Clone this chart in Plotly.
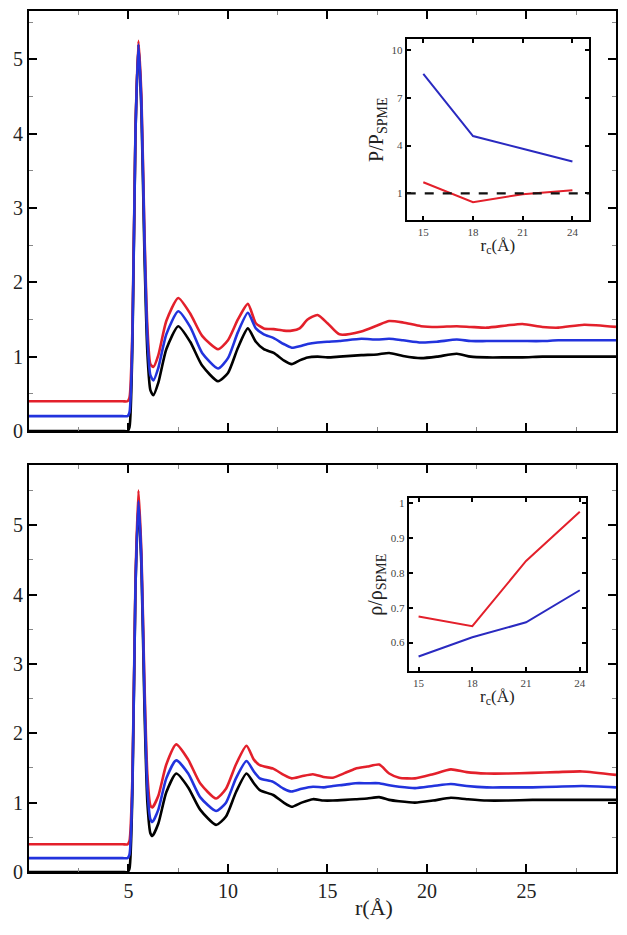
import plotly.graph_objects as go

# ---------------- data ----------------
# top panel g(r) curves (black, blue offset, red offset)
top_r = [0, 2.5, 4.7, 4.95, 5.05, 5.2, 5.35, 5.5, 5.65, 5.8, 5.95, 6.1, 6.25, 6.5, 6.9, 7.5, 8.1, 8.7,
         9.5, 10.0, 10.5, 11.0, 11.4, 11.8, 12.3, 12.8, 13.2, 13.6, 14.0, 14.5, 15.0, 15.6, 16.7,
         17.5, 18.1, 18.8, 19.7, 20.5, 21.5, 22.2, 23.0, 24.0, 24.8, 25.8, 26.6, 27.9, 29.5]
top_black = [0, 0, 0, 0, 0.05, 1.2, 4.0, 5.2, 4.3, 2.4, 1.05, 0.55, 0.48, 0.65, 1.1, 1.41, 1.2, 0.88,
             0.67, 0.78, 1.12, 1.38, 1.2, 1.1, 1.05, 0.95, 0.9, 0.95, 0.99, 1.0, 0.99, 1.0, 1.02,
             1.03, 1.05, 1.01, 0.98, 1.0, 1.04, 1.0, 0.99, 0.99, 0.99, 1.0, 1.0, 1.0, 1.0]
top_blue = [0.2, 0.2, 0.2, 0.2, 0.25, 1.3, 4.0, 5.2, 4.4, 2.6, 1.25, 0.75, 0.68, 0.85, 1.3, 1.61, 1.4, 1.05,
            0.84, 0.98, 1.33, 1.59, 1.38, 1.3, 1.25, 1.17, 1.12, 1.14, 1.17, 1.19, 1.2, 1.21, 1.24,
            1.23, 1.24, 1.22, 1.19, 1.2, 1.23, 1.21, 1.21, 1.21, 1.21, 1.21, 1.22, 1.22, 1.22]
top_red = [0.4, 0.4, 0.4, 0.4, 0.45, 1.4, 4.05, 5.25, 4.5, 2.7, 1.4, 0.9, 0.86, 1.02, 1.48, 1.79, 1.58, 1.28,
           1.1, 1.22, 1.5, 1.71, 1.45, 1.38, 1.37, 1.35, 1.35, 1.38, 1.5, 1.56, 1.45, 1.30, 1.34,
           1.42, 1.48, 1.46, 1.41, 1.40, 1.41, 1.40, 1.39, 1.42, 1.44, 1.40, 1.39, 1.43, 1.40]

# bottom panel g(r) curves
bot_r = [0, 2.5, 4.7, 4.95, 5.05, 5.2, 5.35, 5.5, 5.65, 5.8, 5.95, 6.1, 6.2, 6.5, 6.9, 7.4, 8.0, 8.6,
         9.4, 9.9, 10.4, 10.93, 11.3, 11.6, 12.27, 12.8, 13.2, 13.7, 14.27, 14.8, 15.27, 15.9,
         16.4, 17.0, 17.6, 18.1, 18.6, 19.4, 20.3, 21.2, 22.0, 23.0, 24.0, 25.3, 26.5, 27.8, 29.5]
bot_black = [0, 0, 0, 0, 0.05, 1.2, 4.1, 5.3, 4.4, 2.4, 1.0, 0.56, 0.52, 0.7, 1.15, 1.42, 1.22, 0.9,
             0.68, 0.8, 1.15, 1.42, 1.28, 1.18, 1.11, 1.0, 0.94, 1.0, 1.05, 1.03, 1.03, 1.04,
             1.05, 1.06, 1.08, 1.04, 1.02, 1.0, 1.03, 1.07, 1.05, 1.03, 1.03, 1.04, 1.04, 1.04, 1.04]
bot_blue = [0.2, 0.2, 0.2, 0.2, 0.25, 1.3, 4.1, 5.35, 4.5, 2.6, 1.2, 0.76, 0.72, 0.9, 1.35, 1.61, 1.42, 1.08,
            0.88, 1.0, 1.35, 1.6, 1.45, 1.35, 1.30, 1.2, 1.16, 1.2, 1.23, 1.22, 1.24, 1.26,
            1.28, 1.28, 1.28, 1.25, 1.23, 1.21, 1.24, 1.27, 1.24, 1.22, 1.22, 1.22, 1.23, 1.24, 1.22]
bot_red = [0.4, 0.4, 0.4, 0.4, 0.45, 1.4, 4.2, 5.5, 4.6, 2.75, 1.4, 0.96, 0.93, 1.1, 1.55, 1.84, 1.62, 1.28,
           1.06, 1.2, 1.55, 1.82, 1.62, 1.54, 1.49, 1.4, 1.35, 1.38, 1.41, 1.37, 1.36, 1.43,
           1.49, 1.52, 1.55, 1.42, 1.36, 1.35, 1.41, 1.48, 1.44, 1.42, 1.42, 1.43, 1.44, 1.45, 1.40]

# insets
rc = [15, 18, 21, 24]
p_blue = [8.5, 4.6, 3.8, 3.0]
p_red = [1.7, 0.45, 0.95, 1.2]
p_ref = 1.0
rho_red = [0.675, 0.647, 0.834, 0.975]
rho_blue = [0.56, 0.615, 0.658, 0.75]

main_xticks = [5, 10, 15, 20, 25]
main_yticks = [0, 1, 2, 3, 4, 5]
inset_xticks = [15, 18, 21, 24]
inset1_yticks = [1, 4, 7, 10]
inset2_yticks = [0.6, 0.7, 0.8, 0.9, 1.0]
inset2_yticklabels = ["0.6", "0.7", "0.8", "0.9", "1"]

# ---------------- style ----------------
RED = "#e3202b"
BLUE = "#2233dd"
BLACK = "#000000"
FONT = "Liberation Serif, Times New Roman, serif"

fig = go.Figure()

def add_curves(x, ys, xa, ya):
    for y, c in ys:
        fig.add_trace(go.Scatter(x=x, y=y, mode="lines", xaxis=xa, yaxis=ya,
                                 line=dict(color=c, width=2.6, shape="spline", smoothing=0.6),
                                 showlegend=False, hoverinfo="skip"))

add_curves(top_r, [(top_black, BLACK), (top_red, RED), (top_blue, BLUE)], "x", "y")
add_curves(bot_r, [(bot_black, BLACK), (bot_red, RED), (bot_blue, BLUE)], "x2", "y2")

fig.add_trace(go.Scatter(x=rc, y=p_blue, mode="lines", xaxis="x3", yaxis="y3",
                         line=dict(color="#2a2ac0", width=2), showlegend=False))
fig.add_trace(go.Scatter(x=rc, y=p_red, mode="lines", xaxis="x3", yaxis="y3",
                         line=dict(color=RED, width=2), showlegend=False))
fig.add_trace(go.Scatter(x=rc, y=rho_red, mode="lines", xaxis="x4", yaxis="y4",
                         line=dict(color=RED, width=2), showlegend=False))
fig.add_trace(go.Scatter(x=rc, y=rho_blue, mode="lines", xaxis="x4", yaxis="y4",
                         line=dict(color="#2a2ac0", width=2), showlegend=False))

fig.add_shape(type="line", xref="x3 domain", yref="y3", x0=0, x1=1, y0=p_ref, y1=p_ref,
              line=dict(color="#111", width=2.2, dash="dash"), layer="above")

def main_axis(**kw):
    d = dict(showline=True, linecolor="black", linewidth=2, mirror="allticks",
             ticks="inside", ticklen=8, tickwidth=2, tickcolor="black",
             showgrid=False, zeroline=False,
             tickfont=dict(family=FONT, size=20, color="#222"))
    d.update(kw)
    return d

def inset_axis(**kw):
    d = dict(showline=True, linecolor="black", linewidth=2, mirror="ticks",
             ticks="inside", ticklen=4, tickwidth=1.5, tickcolor="black",
             showgrid=False, zeroline=False,
             tickfont=dict(family=FONT, size=11, color="#444"))
    d.update(kw)
    return d

y_top = [0.5122, 1.0]
y_bot = [0.0, 0.4728]
minor_x = dict(ticks="inside", ticklen=4, tickwidth=1, tickcolor="#888", dtick=2.5, tick0=0)
minor_y = dict(ticks="inside", ticklen=4, tickwidth=1, tickcolor="#888", dtick=0.5, tick0=0)

# page body has an 8px margin: figure is sized/offset to compensate
fig.update_layout(
    width=611, height=919,
    margin=dict(l=21, r=1, t=1, b=55),
    paper_bgcolor="white", plot_bgcolor="white",
    xaxis=main_axis(domain=[0, 1], range=[0, 29.5], anchor="y", tickvals=main_xticks,
                    showticklabels=False, minor=minor_x),
    yaxis=main_axis(domain=y_top, range=[0, 5.65], anchor="x", tickvals=main_yticks, minor=minor_y),
    xaxis2=main_axis(domain=[0, 1], range=[0, 29.5], anchor="y2", tickvals=main_xticks, minor=minor_x),
    yaxis2=main_axis(domain=y_bot, range=[0, 5.87], anchor="x2", tickvals=main_yticks, minor=minor_y),
    xaxis3=inset_axis(domain=[0.6435, 0.954], range=[14, 25], anchor="y3", tickvals=inset_xticks,
                      title=dict(text="r<sub>c</sub>(Å)", font=dict(family=FONT, size=17, color="#222"), standoff=2)),
    yaxis3=inset_axis(domain=[0.7567, 0.9676], range=[-0.7, 10.7], anchor="x3", tickvals=inset1_yticks,
                      title=dict(text="P/P<sub>SPME</sub>", font=dict(family=FONT, size=20, color="#222"), standoff=3)),
    xaxis4=inset_axis(domain=[0.6469, 0.949], range=[14.45, 24.35], anchor="y4", tickvals=inset_xticks,
                      title=dict(text="r<sub>c</sub>(Å)", font=dict(family=FONT, size=17, color="#222"), standoff=2)),
    yaxis4=inset_axis(domain=[0.2329, 0.4345], range=[0.517, 1.015], anchor="x4", tickvals=inset2_yticks,
                      ticktext=inset2_yticklabels,
                      title=dict(text="ρ/ρ<sub>SPME</sub>", font=dict(family=FONT, size=20, color="#222"), standoff=3)),
)

fig.add_annotation(text="r(Å)", xref="x2", yref="paper", x=17.35, y=-0.041, yanchor="middle",
                   showarrow=False, font=dict(family=FONT, size=22, color="#222"))

fig.write_html("out.html")
